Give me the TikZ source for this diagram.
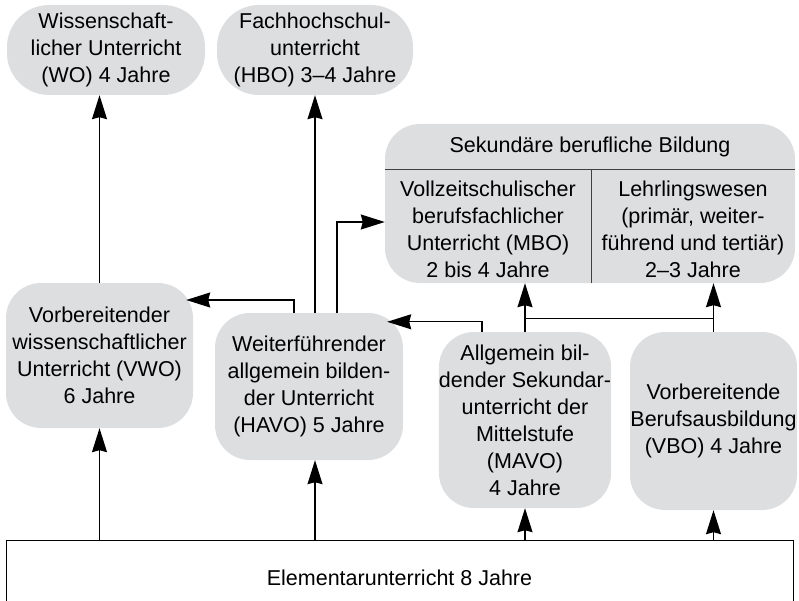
\documentclass[tikz,border=0pt]{standalone}
\usepackage{fontspec}
\setmainfont{Liberation Sans}
\usetikzlibrary{arrows.meta,calc}
\definecolor{boxgray}{RGB}{221,222,224}

\begin{document}
\begin{tikzpicture}[x=1pt,y=-1pt,
  box/.style={fill=boxgray, rounded corners=35pt, align=center, inner sep=0pt,
    font=\fontsize{21.5}{27}\selectfont},
  txt/.style={align=center, inner sep=0pt, font=\fontsize{21.5}{27}\selectfont},
  arr/.style={-{Stealth[length=24pt,width=15pt,inset=2pt]}, line width=1.2pt},
  ln/.style={line width=1.2pt}]
\useasboundingbox (0,0) rectangle (799,601);

% higher education
\node[box, minimum width=198pt, minimum height=90pt, rounded corners=42pt] (wo) at (106,50)
  {Wissenschaft-\\licher Unterricht\\(WO) 4 Jahre};
\node[box, minimum width=196pt, minimum height=90pt, rounded corners=42pt] (hbo) at (315,50)
  {Fachhochschul-\\unterricht\\(HBO) 3--4 Jahre};

% secondary vocational
\node[box, minimum width=410pt, minimum height=159pt] (sek) at (590,203.5) {};
\draw[line width=1pt, black!75] ($(sek.west)+(0,-33.5)$) -- ($(sek.east)+(0,-33.5)$);
\draw[line width=1pt, black!75] ($(sek.south)+(1,0)$) -- ($(sek.south)+(1,-113)$);
\node[txt] (sekhead) at (590,147) {Sekundäre berufliche Bildung};
\node[txt] (mbo) at (488,229) {Vollzeitschulischer\\berufsfachlicher\\Unterricht (MBO)\\2 bis 4 Jahre};
\node[txt] (lehr) at (693,229) {Lehrlingswesen\\(primär, weiter-\\führend und tertiär)\\2--3 Jahre};

% secondary
\node[box, minimum width=187pt, minimum height=145pt] (vwo) at (99.5,355.5)
  {Vorbereitender\\wissenschaftlicher\\Unterricht (VWO)\\6 Jahre};
\node[box, minimum width=188pt, minimum height=147pt] (havo) at (309,386.5)
  {Weiterführender\\allgemein bilden-\\der Unterricht\\(HAVO) 5 Jahre};
\node[box, minimum width=166pt, minimum height=176pt] (mavo) at (525,420)
  {Allgemein bil-\\dender Sekundar-\\unterricht der\\Mittelstufe\\(MAVO)\\4 Jahre};
\node[box, minimum width=167pt, minimum height=178pt] (vbo) at (713.5,421)
  {Vorbereitende\\Berufsausbildung\\(VBO) 4 Jahre};

% primary
\node[draw, line width=1pt, minimum width=787pt, minimum height=76pt, inner sep=0pt,
  font=\fontsize{21.5}{27}\selectfont] (elem) at (399.5,578) {Elementarunterricht 8 Jahre};

% from primary
\draw[arr] (elem.north -| vwo.south) -- (vwo.south);
\draw[arr] (elem.north -| hbo.south) -- (havo.south -| hbo.south);
\draw[arr] (elem.north -| mavo.south) -- (mavo.south);
\draw[arr] (elem.north -| vbo.south) -- (vbo.south);

% upwards
\draw[arr] (vwo.north) -- (vwo.north |- wo.south);
\draw[arr] (havo.north -| hbo.south) -- (hbo.south);

% side transfers
\draw[arr] ($(havo.north)+(-15,0)$) |- ($(vwo.east)+(-7,-55.5)$);
\draw[arr] ($(havo.north)+(28,0)$) |- ($(sek.west)+(0,18.5)$);
\draw[arr] ($(mavo.north)+(-43,0)$) |- ($(havo.north east)+(-16,9)$);

% into vocational
\draw[ln] (mavo.north) -- ++(0,-13) coordinate (jm) -| (vbo.north);
\draw[arr] (jm) -- (jm |- sek.south);
\draw[arr] (vbo.north |- jm) -- (vbo.north |- sek.south);
\end{tikzpicture}
\end{document}
